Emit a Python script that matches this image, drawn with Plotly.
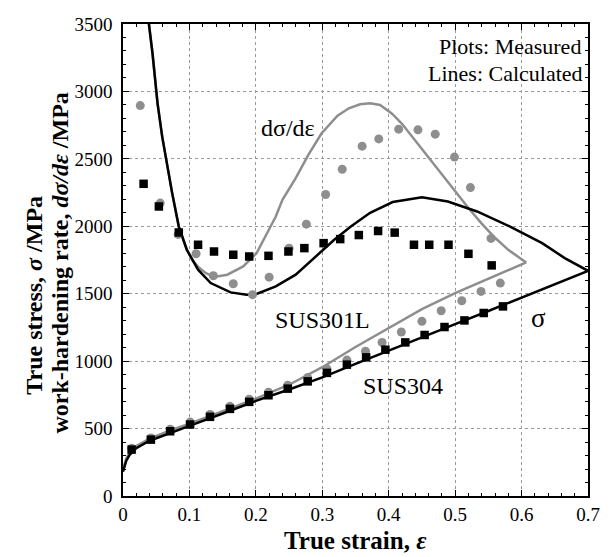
import plotly.graph_objects as go

# ---------------- data ----------------
# SUS304 measured (black squares)
s304_strain = [0.013, 0.042, 0.071, 0.101, 0.131, 0.161, 0.190, 0.219, 0.248, 0.278,
               0.307, 0.337, 0.366, 0.395, 0.425, 0.454, 0.484, 0.514, 0.543, 0.572]
s304_stress = [344, 418, 480, 530, 587, 646, 698, 747, 796, 850,
               913, 974, 1028, 1085, 1139, 1194, 1253, 1302, 1357, 1406]
h304_strain = [0.031, 0.054, 0.084, 0.113, 0.137, 0.166, 0.190, 0.219, 0.249, 0.273,
               0.302, 0.327, 0.355, 0.384, 0.409, 0.438, 0.461, 0.490, 0.520, 0.555]
h304_rate = [2315, 2147, 1954, 1863, 1813, 1789, 1776, 1781, 1813, 1838,
             1875, 1905, 1935, 1965, 1953, 1863, 1863, 1863, 1796, 1710]

# SUS301L measured (gray circles)
s301_strain = [0.013, 0.042, 0.071, 0.101, 0.131, 0.161, 0.190, 0.219, 0.248, 0.278,
               0.307, 0.337, 0.365, 0.390, 0.419, 0.450, 0.479, 0.510, 0.539, 0.568]
s301_stress = [355, 430, 495, 548, 605, 665, 718, 770, 822, 878,
               943, 1008, 1073, 1139, 1216, 1295, 1374, 1448, 1517, 1579]
h301_strain = [0.026, 0.056, 0.083, 0.110, 0.136, 0.166, 0.195, 0.220, 0.250, 0.276,
               0.305, 0.330, 0.360, 0.385, 0.415, 0.444, 0.470, 0.499, 0.523, 0.554]
h301_rate = [2895, 2172, 1940, 1796, 1633, 1574, 1493, 1623, 1838, 2016,
             2236, 2423, 2594, 2648, 2720, 2715, 2683, 2513, 2287, 1910]

# SUS304 calculated (black lines)
c304_s_strain = [0, 0.005, 0.01, 0.02, 0.04, 0.07, 0.1, 0.15, 0.2, 0.25, 0.3,
                 0.35, 0.4, 0.45, 0.5, 0.55, 0.6, 0.65, 0.7]
c304_s_stress = [180, 262, 305, 355, 410, 468, 520, 612, 705, 790, 880,
                 980, 1080, 1175, 1275, 1372, 1472, 1572, 1670]
c304_h_strain = [0.035, 0.0386, 0.0444, 0.052, 0.059, 0.066, 0.074, 0.084, 0.096, 0.113,
                 0.132, 0.162, 0.186, 0.201, 0.23, 0.26, 0.289, 0.318, 0.343, 0.372,
                 0.406, 0.45, 0.489, 0.533, 0.582, 0.631, 0.665, 0.7]
c304_h_rate = [3800, 3517, 3283, 2912, 2665, 2460, 2246, 1998, 1826, 1678,
               1579, 1510, 1493, 1498, 1554, 1641, 1770, 1900, 1999, 2100,
               2180, 2216, 2184, 2110, 1999, 1875, 1764, 1670]

# SUS301L calculated (gray lines)
c301_s_strain = [0, 0.005, 0.01, 0.02, 0.04, 0.07, 0.1, 0.15, 0.2, 0.25, 0.3,
                 0.35, 0.4, 0.45, 0.5, 0.55, 0.607]
c301_s_stress = [200, 280, 320, 370, 425, 485, 537, 628, 722, 825, 955,
                 1105, 1245, 1385, 1505, 1610, 1732]
c301_h_strain = [0.035, 0.0386, 0.0444, 0.052, 0.059, 0.066, 0.074, 0.084, 0.096, 0.105,
                 0.115, 0.125, 0.137, 0.157, 0.181, 0.201, 0.215, 0.230, 0.240, 0.260,
                 0.279, 0.299, 0.323, 0.340, 0.357, 0.372, 0.387, 0.405, 0.420, 0.440,
                 0.460, 0.480, 0.500, 0.520, 0.540, 0.560, 0.580, 0.607]
c301_h_rate = [3800, 3517, 3283, 2912, 2665, 2460, 2246, 1998, 1830, 1745,
               1690, 1652, 1625, 1641, 1702, 1800, 1930, 2072, 2196, 2357,
               2530, 2690, 2820, 2875, 2905, 2912, 2900, 2835, 2760, 2635,
               2505, 2380, 2255, 2135, 2020, 1915, 1825, 1732]

x_ticks = [0, 0.1, 0.2, 0.3, 0.4, 0.5, 0.6, 0.7]
x_ticklabels = ["0", "0.1", "0.2", "0.3", "0.4", "0.5", "0.6", "0.7"]
y_ticks = [0, 500, 1000, 1500, 2000, 2500, 3000, 3500]
y_ticklabels = ["0", "500", "1000", "1500", "2000", "2500", "3000", "3500"]

GRAY = "#8e8e8e"
FONT = "Liberation Serif, Times New Roman, serif"

fig = go.Figure()
# lines
fig.add_trace(go.Scatter(x=c301_s_strain, y=c301_s_stress, mode="lines",
                         line=dict(color=GRAY, width=2.5), showlegend=False))
fig.add_trace(go.Scatter(x=c301_h_strain, y=c301_h_rate, mode="lines",
                         line=dict(color=GRAY, width=2.5), showlegend=False))
fig.add_trace(go.Scatter(x=c304_s_strain, y=c304_s_stress, mode="lines",
                         line=dict(color="black", width=2.5), showlegend=False))
fig.add_trace(go.Scatter(x=c304_h_strain, y=c304_h_rate, mode="lines",
                         line=dict(color="black", width=2.5), showlegend=False))
# markers
fig.add_trace(go.Scatter(x=s301_strain, y=s301_stress, mode="markers",
                         marker=dict(symbol="circle", size=9, color=GRAY), showlegend=False))
fig.add_trace(go.Scatter(x=h301_strain, y=h301_rate, mode="markers",
                         marker=dict(symbol="circle", size=9, color=GRAY), showlegend=False))
fig.add_trace(go.Scatter(x=s304_strain, y=s304_stress, mode="markers",
                         marker=dict(symbol="square", size=8.5, color="black"), showlegend=False))
fig.add_trace(go.Scatter(x=h304_strain, y=h304_rate, mode="markers",
                         marker=dict(symbol="square", size=8.5, color="black"), showlegend=False))

axis_common = dict(
    showline=True, linecolor="black", linewidth=1.5, mirror="allticks",
    ticks="inside", ticklen=6, tickwidth=1, tickcolor="black",
    showgrid=True, gridcolor="#9a9a9a", gridwidth=1, griddash="dot",
    zeroline=False,
    tickfont=dict(family=FONT, size=19, color="black"),
)
fig.update_xaxes(range=[0, 0.7], tickvals=x_ticks, ticktext=x_ticklabels,
                 minor=dict(dtick=0.02, ticks="inside", ticklen=3, tickcolor="black", showgrid=False),
                 **axis_common)
fig.update_yaxes(range=[0, 3500], tickvals=y_ticks, ticktext=y_ticklabels,
                 minor=dict(dtick=100, ticks="inside", ticklen=3, tickcolor="black", showgrid=False),
                 ticklabelstandoff=5, **axis_common)

def tf(size):
    return dict(family=FONT, size=size, color="black")

annotations = [
    dict(x=0.249, y=2726, xref="x", yref="y", text="dσ/dε", showarrow=False, font=tf(24)),
    dict(x=0.30, y=1307, xref="x", yref="y", text="SUS301L", showarrow=False, font=tf(24)),
    dict(x=0.421, y=813, xref="x", yref="y", text="SUS304", showarrow=False, font=tf(24)),
    dict(x=0.625, y=1320, xref="x", yref="y", text="σ", showarrow=False, font=tf(27)),
    dict(x=0.99, y=0.952, xref="paper", yref="paper", text="Plots: Measured", showarrow=False,
         xanchor="right", yanchor="middle", font=tf(22)),
    dict(x=0.993, y=0.896, xref="paper", yref="paper", text="Lines: Calculated", showarrow=False,
         xanchor="right", yanchor="middle", font=tf(22)),
    dict(x=0.5, y=-0.095, xref="paper", yref="paper", text="<b>True strain, <i>ε</i></b>",
         showarrow=False, xanchor="center", yanchor="middle", font=tf(25)),
    dict(x=-0.192, y=0.426, xref="paper", yref="paper", text="<b>True stress, <i>σ</i> /MPa</b>",
         showarrow=False, textangle=-90, xanchor="center", yanchor="middle", font=tf(24)),
    dict(x=-0.136, y=0.494, xref="paper", yref="paper",
         text="<b>work-hardening rate, <i>dσ/dε</i> /MPa</b>",
         showarrow=False, textangle=-90, xanchor="center", yanchor="middle", font=tf(24)),
]

fig.update_layout(
    width=612, height=557,
    margin=dict(l=123, r=12, t=24, b=61),
    paper_bgcolor="white", plot_bgcolor="white",
    annotations=annotations,
    font=dict(family=FONT, color="black"),
)

fig.write_html("out.html")
